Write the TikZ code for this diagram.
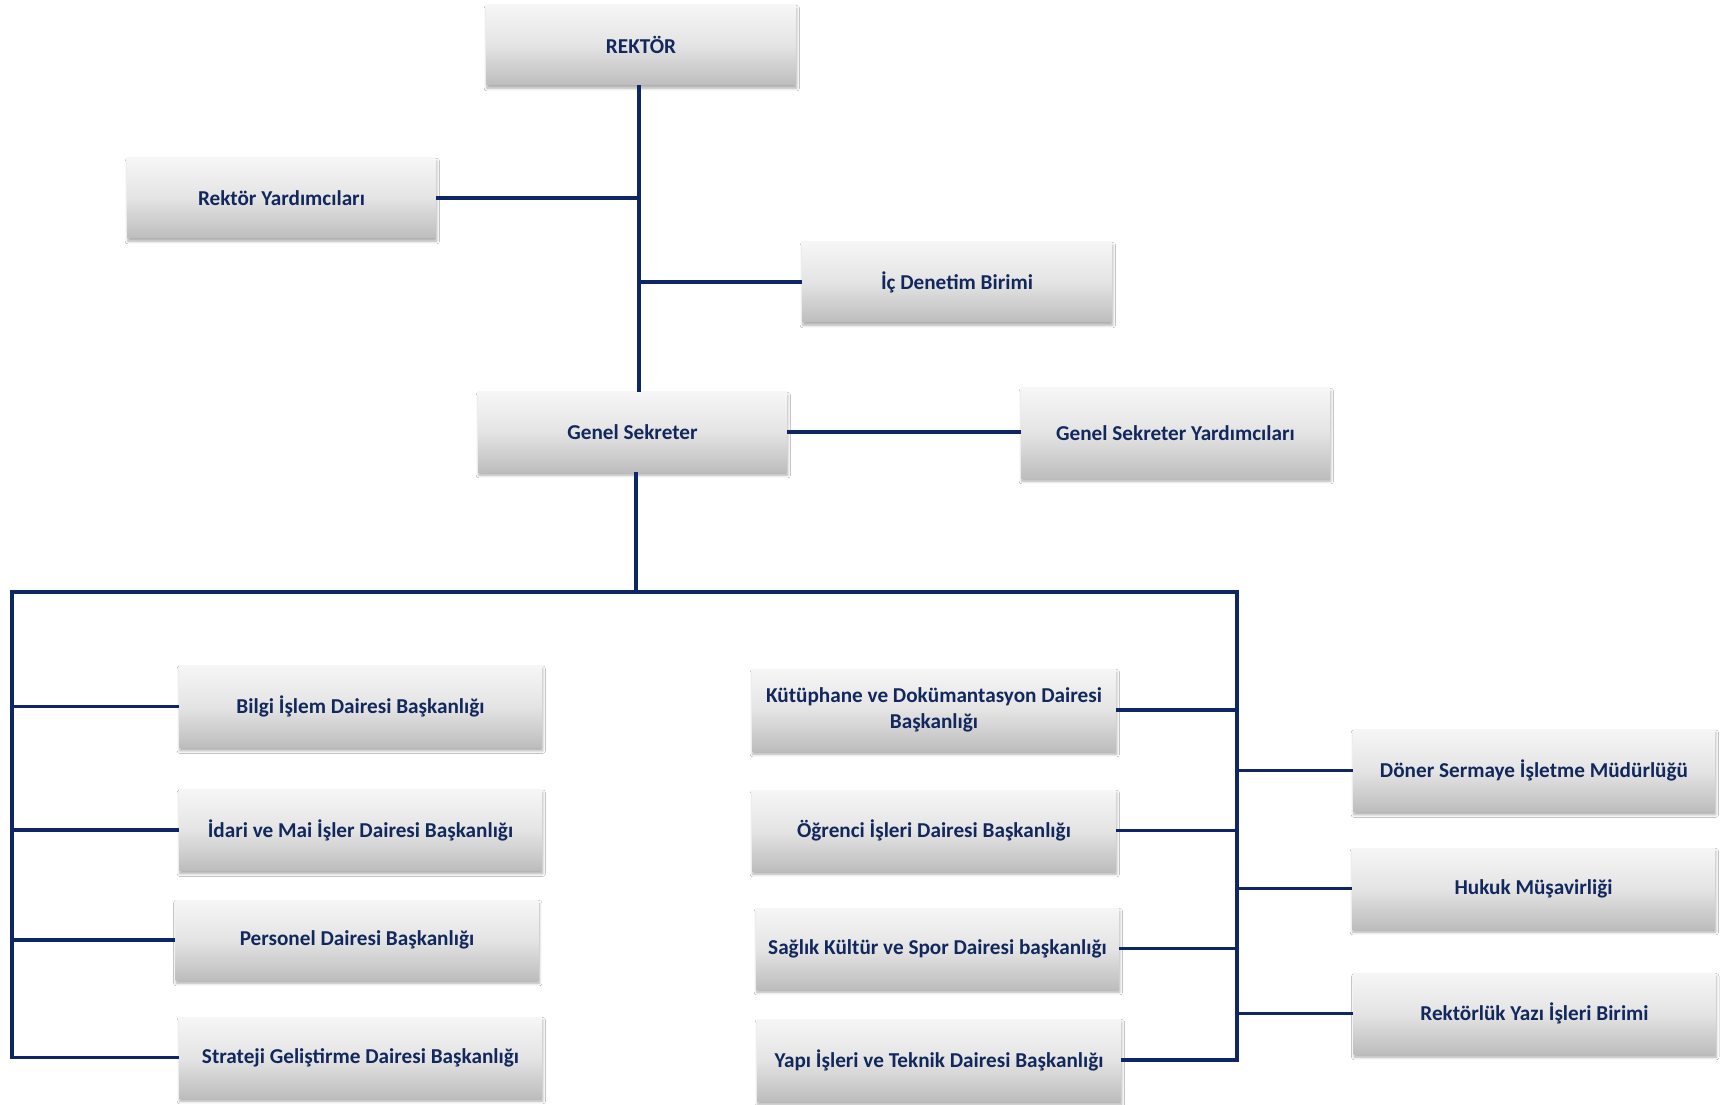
\documentclass[tikz,border=0pt]{standalone}
\usepackage{fontspec}
\setmainfont{Carlito}
\usetikzlibrary{shadows.blur,calc}
\definecolor{navy}{HTML}{0E2666}
\definecolor{txt}{HTML}{12285C}
\definecolor{boxtop}{HTML}{F6F6F6}
\definecolor{boxmid}{HTML}{E4E4E4}
\definecolor{boxbot}{HTML}{BDBDBD}
\begin{document}
\begin{tikzpicture}[x=0.75pt,y=-0.75pt,
  box/.style={rectangle, inner sep=0pt, top color=boxtop, bottom color=boxbot, middle color=boxmid,
    blur shadow={shadow xshift=0.6pt, shadow yshift=-2.4pt, shadow blur radius=2pt, shadow opacity=32},
    text=txt, font=\fontsize{15.9}{20}\selectfont\bfseries, align=center},
  link/.style={draw=navy, line width=2.9pt, line join=miter}]
\useasboundingbox (0,0) rectangle (1720,1105);
\fill[white] (0,0) rectangle (1720,1105);
% nodes
\node[box, minimum width=232.5pt, minimum height=60pt] (rek) at (641,45) {REKTÖR};
\node[box, minimum width=231.75pt, minimum height=60pt] (ry) at (281.5,198) {Rektör Yardımcıları};
\node[box, minimum width=232.5pt, minimum height=60pt] (ic) at (957,282) {İç Denetim Birimi};
\node[box, minimum width=231.75pt, minimum height=60pt] (gs) at (632.5,432) {Genel Sekreter};
\node[box, minimum width=231.75pt, minimum height=67.5pt] (gsy) at (1175.5,433) {Genel Sekreter Yardımcıları};
\node[box, minimum width=272.25pt, minimum height=61.5pt] (bilgi) at (360.5,706.5) {Bilgi İşlem Dairesi Başkanlığı};
\node[box, minimum width=272.25pt, minimum height=60.75pt] (idari) at (360.5,830) {İdari ve Mai İşler Dairesi Başkanlığı};
\node[box, minimum width=272.25pt, minimum height=60pt] (pers) at (357,940) {Personel Dairesi Başkanlığı};
\node[box, minimum width=272.25pt, minimum height=60.75pt] (strat) at (360.5,1057.5) {Strateji Geliştirme Dairesi Başkanlığı};
\node[box, minimum width=273pt, minimum height=61.5pt] (kut) at (934,710) {Kütüphane ve Dokümantasyon Dairesi\\Başkanlığı};
\node[box, minimum width=273pt, minimum height=60.75pt] (ogr) at (934,830.5) {Öğrenci İşleri Dairesi Başkanlığı};
\node[box, minimum width=272.25pt, minimum height=60.75pt] (sag) at (937.5,948.5) {Sağlık Kültür ve Spor Dairesi başkanlığı};
\node[box, minimum width=273pt, minimum height=61.5pt] (yapi) at (939,1060) {Yapı İşleri ve Teknik Dairesi Başkanlığı};
\node[box, minimum width=271.5pt, minimum height=61.5pt] (doner) at (1534,770.5) {Döner Sermaye İşletme Müdürlüğü};
\node[box, minimum width=272.25pt, minimum height=60.75pt] (hukuk) at (1533.5,888.5) {Hukuk Müşavirliği};
\node[box, minimum width=271.5pt, minimum height=60.75pt] (ryib) at (1534.5,1013.5) {Rektörlük Yazı İşleri Birimi};
% junction coordinates
\coordinate (trunk) at (639,45);
\coordinate (gsdown) at (636,592);
\coordinate (bl) at (12,592);
\coordinate (br) at (1237,592);
% connectors
\draw[link] (trunk |- rek.south) -- (trunk |- gs.north);
\draw[link] (ry.east) -- (ry.east -| trunk);
\draw[link] (ic.west) -- (ic.west -| trunk);
\draw[link] (gs.east) -- (gs.east -| gsy.west);
\draw[link] (gsdown |- gs.south) -- (gsdown);
\draw[link] (strat.west) -- (strat.west -| bl) -- (bl) -- (br) -- (yapi.east -| br) -- (yapi.east);
\draw[link] (bilgi.west) -- (bilgi.west -| bl);
\draw[link] (idari.west) -- (idari.west -| bl);
\draw[link] (pers.west) -- (pers.west -| bl);
\draw[link] (kut.east) -- (kut.east -| br);
\draw[link] (ogr.east) -- (ogr.east -| br);
\draw[link] (sag.east) -- (sag.east -| br);
\draw[link] (doner.west) -- (doner.west -| br);
\draw[link] (hukuk.west) -- (hukuk.west -| br);
\draw[link] (ryib.west) -- (ryib.west -| br);
\end{tikzpicture}
\end{document}
